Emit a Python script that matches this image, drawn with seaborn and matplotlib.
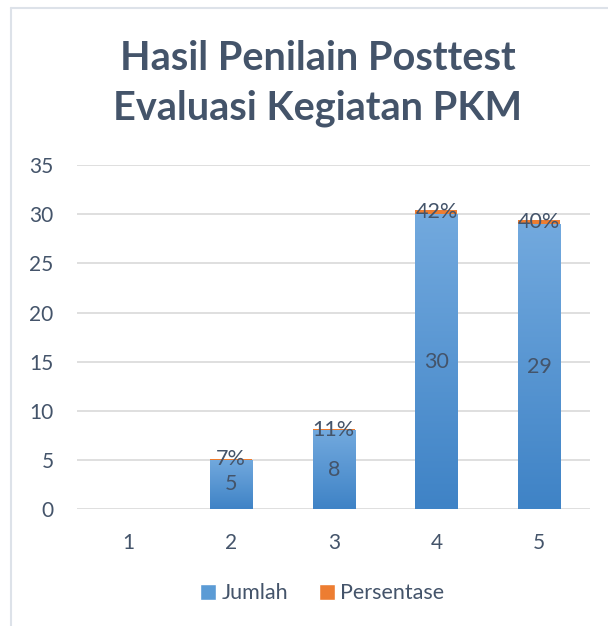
import numpy as np
import pandas as pd
import matplotlib
matplotlib.use('Agg')
import matplotlib.pyplot as plt
import seaborn as sns
from matplotlib.colors import LinearSegmentedColormap
from matplotlib.patches import Rectangle
from matplotlib.lines import Line2D

# data
categories = ['1', '2', '3', '4', '5']
jumlah = [0, 5, 8, 30, 29]
persentase = [0.0, 0.07, 0.11, 0.42, 0.40]
persen_labels = ['', '7%', '11%', '42%', '40%']
y_ticks = [0, 5, 10, 15, 20, 25, 30, 35]

TEXT = '#44546A'
BLUE = '#5B9BD5'
ORANGE = '#ED7D31'

sns.set_theme(style='white')
plt.rcParams['font.family'] = ['Lato', 'DejaVu Sans']

df = pd.DataFrame({'kategori': categories, 'Jumlah': jumlah, 'Persentase': persentase})

fig = plt.figure(figsize=(6.08, 6.26), dpi=100)
ax = fig.add_axes([0.127, 0.187, 0.844, 0.549])

sns.barplot(data=df, x='kategori', y='Jumlah', color=BLUE, width=0.41,
            saturation=1, ax=ax, zorder=3, linewidth=0)
blue_bars = list(ax.containers[0])
sns.barplot(data=df, x='kategori', y='Persentase', color=ORANGE, width=0.41,
            saturation=1, ax=ax, zorder=3, linewidth=0, bottom=jumlah)

# vertical gradient on the blue bars
grad = LinearSegmentedColormap.from_list('g', ['#3F83C6', '#72A9DE'])
for p in blue_bars:
    h = p.get_height()
    if h <= 0:
        continue
    x0 = p.get_x()
    w = p.get_width()
    im = ax.imshow(np.linspace(0, 1, 100).reshape(-1, 1), cmap=grad, origin='lower',
                   extent=[x0, x0 + w, 0, h], aspect='auto', zorder=3.5)
    im.set_clip_path(p)

jumlah_labels = [str(v) if v else '' for v in jumlah]
ax.bar_label(ax.containers[0], labels=jumlah_labels, label_type='center',
             color=TEXT, fontsize=15.5, zorder=5)
ax.bar_label(ax.containers[1], labels=persen_labels, label_type='center',
             color=TEXT, fontsize=15.5, zorder=5)

ax.set_ylim(0, 35)
ax.set_xlim(-0.5, 4.5)
ax.set_yticks(y_ticks)
ax.yaxis.grid(True, color='#D9D9D9', linewidth=1.2, zorder=0)
ax.set_axisbelow(True)
sns.despine(ax=ax, left=True, bottom=True)
ax.set_xlabel('')
ax.set_ylabel('')
ax.tick_params(axis='y', length=0, pad=17, labelsize=15, labelcolor=TEXT)
ax.tick_params(axis='x', length=0, pad=17, labelsize=15, labelcolor=TEXT)

fig.text(0.522, 0.867, 'Hasil Penilain Posttest\nEvaluasi Kegiatan PKM',
         ha='center', va='center', fontsize=28.5, fontweight='bold',
         color=TEXT, linespacing=1.4)

handles = [Rectangle((0, 0), 1, 1, facecolor=BLUE), Rectangle((0, 0), 1, 1, facecolor=ORANGE)]
fig.legend(handles, ['Jumlah', 'Persentase'], loc='center', bbox_to_anchor=(0.53, 0.052),
           ncol=2, frameon=False, fontsize=15.5, labelcolor=TEXT, handlelength=0.75,
           handleheight=0.75, handletextpad=0.25, columnspacing=1.4)

# light outer chart border
fig.add_artist(Line2D([11 / 608, 11 / 608], [0, 1 - 8 / 626], color='#DDE2E9', linewidth=1.5))
fig.add_artist(Line2D([11 / 608, 1], [1 - 8 / 626, 1 - 8 / 626], color='#DDE2E9', linewidth=1.5))

fig.savefig('out.png', dpi=100)
